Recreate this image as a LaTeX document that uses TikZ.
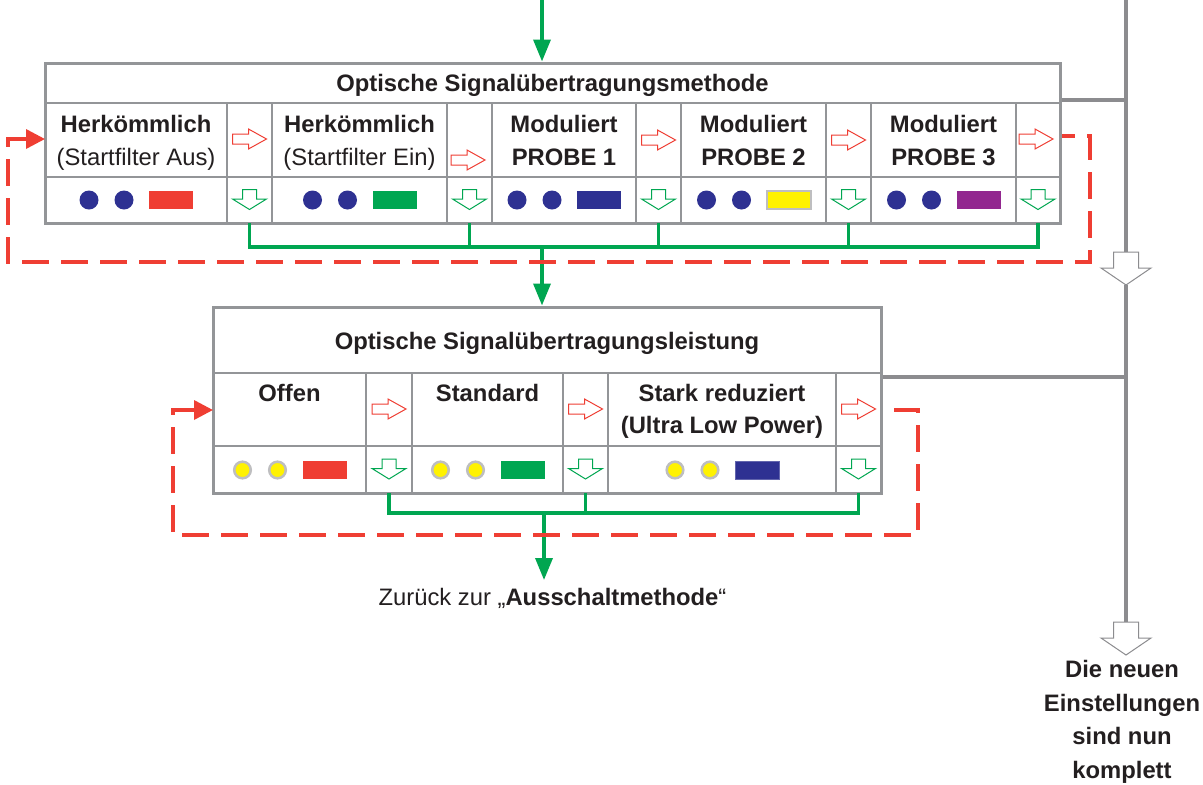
\documentclass[tikz,border=0pt]{standalone}
\usepackage{fontspec}
\setmainfont{Liberation Sans}
\usetikzlibrary{arrows.meta}

\definecolor{framegray}{RGB}{147,149,152}
\definecolor{linegray}{RGB}{140,140,143}
\definecolor{dotrim}{RGB}{190,190,192}
\definecolor{sigred}{RGB}{239,62,51}
\definecolor{siggreen}{RGB}{0,166,81}
\definecolor{sigblue}{RGB}{46,49,146}
\definecolor{sigyellow}{RGB}{255,242,0}
\definecolor{sigpurple}{RGB}{146,39,143}
\definecolor{txt}{RGB}{35,31,32}

\tikzset{
  reg/.style={font=\fontsize{23.8}{28}\selectfont, text=txt, inner sep=0pt, anchor=base},
  bld/.style={font=\fontsize{23.8}{28}\selectfont\bfseries, text=txt, inner sep=0pt, anchor=base},
  frame/.style={draw=framegray, line width=3pt, inner sep=0pt},
  grid/.style={draw=framegray, line width=1.5pt},
  gline/.style={draw=linegray, line width=3.5pt},
  gconn/.style={draw=siggreen, line width=3.5pt},
  gtip/.style={-{Triangle[length=22pt,width=17pt]}},
  rloop/.style={draw=sigred, line width=3.5pt, dash pattern=on 27pt off 12pt,
                {Triangle[length=19pt,width=19pt]}-},
  % small hollow arrow pointing right
  rarrow/.pic={\draw[sigred, line width=1pt, fill=white]
      (-17,-5) -- (-1,-5) -- (-1,-10) -- (17,0) -- (-1,10) -- (-1,5) -- (-17,5) -- cycle;},
  % small hollow arrow pointing down
  darrow/.pic={\draw[siggreen, line width=1pt, fill=white]
      (-7,-10) -- (7,-10) -- (7,-0.5) -- (17,-0.5) -- (0,10) -- (-17,-0.5) -- (-7,-0.5) -- cycle;},
  % large hollow arrow on the gray line
  grayarrow/.pic={\draw[linegray, line width=1pt, fill=white]
      (-12.5,0) -- (12.5,0) -- (12.5,16) -- (25,16) -- (0,33) -- (-25,16) -- (-12.5,16) -- cycle;
      \coordinate (-top) at (0,0);
      \coordinate (-tip) at (0,33);},
  % signal pattern: two blue dots and a coloured bar
  bluesig/.pic={\fill[sigblue] (-47,0) circle (9.5);
      \fill[sigblue] (-12,0) circle (9.5);
      \path[#1] (13,-9) rectangle (57,9);},
  % signal pattern: two yellow dots and a coloured bar
  yellowsig/.pic={\filldraw[fill=sigyellow, draw=dotrim, line width=2.5pt] (-47,0) circle (8.3);
      \filldraw[fill=sigyellow, draw=dotrim, line width=2.5pt] (-12,0) circle (8.3);
      \path[#1] (13,-9) rectangle (57,9);},
}

\begin{document}
\begin{tikzpicture}[x=1pt,y=-1pt]
\useasboundingbox[fill=white] (0,0) rectangle (1203,785);

% ---------- table: transmission method ----------
\foreach \x in {227,272,447,492,636,681,826,871,1016}
  \draw[grid] (\x,103) -- (\x,223);
\draw[grid] (45,103) -- (1060,103) (45,177) -- (1060,177);
\node[frame, minimum width=1015pt, minimum height=160pt] (methode) at (552.5,143) {};

\node[bld] (mTitle) at (552.5,91) {Optische Signalübertragungsmethode};

\node[bld] (m1a) at (136,132) {Herkömmlich};
\node[reg] (m1b) at (136,165) {(Startfilter Aus)};
\node[bld] (m2a) at (359.5,132) {Herkömmlich};
\node[reg] (m2b) at (359.5,165) {(Startfilter Ein)};
\node[bld] (m3a) at (564,132) {Moduliert};
\node[bld] (m3b) at (564,165) {PROBE 1};
\node[bld] (m4a) at (753.5,132) {Moduliert};
\node[bld] (m4b) at (753.5,165) {PROBE 2};
\node[bld] (m5a) at (943.5,132) {Moduliert};
\node[bld] (m5b) at (943.5,165) {PROBE 3};

\pic at (249.5,139) {rarrow};
\pic at (468,160) {rarrow};
\pic at (658.5,140) {rarrow};
\pic at (848.5,140) {rarrow};
\pic at (1036,139) {rarrow};

\foreach \x in {249.5,469.5,658.5,848.5,1038}
  \pic at (\x,199.5) {darrow};

\pic at (136,200) {bluesig={fill=sigred}};
\pic at (359.5,200) {bluesig={fill=siggreen}};
\pic at (564,200) {bluesig={fill=sigblue}};
\pic at (753.5,200) {bluesig={fill=sigyellow, draw=dotrim, line width=2pt}};
\pic at (943.5,200) {bluesig={fill=sigpurple}};

% ---------- table: transmission power ----------
\foreach \x in {366,412,563,608,836}
  \draw[grid] (\x,373) -- (\x,493);
\draw[grid] (213,373) -- (881,373) (213,446) -- (881,446);
\node[frame, minimum width=668pt, minimum height=186pt] (leistung) at (547,400) {};

\node[bld] (lTitle) at (547,349) {Optische Signalübertragungsleistung};
\node[bld] (l1) at (289.5,401) {Offen};
\node[bld] (l2) at (487.5,401) {Standard};
\node[bld] (l3a) at (722,401) {Stark reduziert};
\node[bld] (l3b) at (722,433) {(Ultra Low Power)};

\foreach \x in {389,585.5,858.5} {
  \pic at (\x,409) {rarrow};
  \pic at (\x,469) {darrow};
}

\pic at (289.5,470) {yellowsig={fill=sigred}};
\pic at (487.5,470) {yellowsig={fill=siggreen}};
\pic at (722,470) {yellowsig={fill=sigblue, draw=sigblue!75, line width=1pt}};

% ---------- captions ----------
\node[reg] (back) at (552.5,605) {Zurück zur „\textbf{Ausschaltmethode}“};
\node[bld] (done1) at (1122,677) {Die neuen};
\node[bld] (done2) at (1122,711) {Einstellungen};
\node[bld] (done3) at (1122,744) {sind nun};
\node[bld] (done4) at (1122,778) {komplett};

% ---------- gray line to the end of the setup ----------
\pic (ga1) at (1126,252) {grayarrow};
\pic (ga2) at (1126,622) {grayarrow};
\coordinate (gStart) at (1126,0);
\coordinate (j1) at (1126,100);
\coordinate (j2) at (1126,377);
\draw[gline] (gStart) -- (ga1-top);
\draw[gline] (ga1-tip) -- (ga2-top);
\draw[gline] (methode.east |- j1) -- (j1);
\draw[gline] (leistung.east |- j2) -- (j2);

% ---------- green connectors ----------
\coordinate (gIn) at (542,0);
\draw[gconn, gtip] (gIn) -- (gIn |- methode.north);

\foreach \x/\n in {249.5/a,469.5/b,658.5/c,848.5/d,1038/e}
  \coordinate (mOut\n) at (\x,223);
\coordinate (mBus) at (542,247);
\draw[gconn] (mOuta) -- (mOuta |- mBus) -- (mOute |- mBus) -- (mOute);
\foreach \n in {b,c,d}
  \draw[gconn] (mOut\n) -- (mOut\n |- mBus);
\draw[gconn, gtip] (mBus) -- (mBus |- leistung.north);

\foreach \x/\n in {389/a,585.5/b,858.5/c}
  \coordinate (lOut\n) at (\x,493);
\coordinate (lBus) at (544,513);
\coordinate (backIn) at (544,580);
\draw[gconn] (lOuta) -- (lOuta |- lBus) -- (lOutc |- lBus) -- (lOutc);
\draw[gconn] (lOutb) -- (lOutb |- lBus);
\draw[gconn, gtip] (lBus) -- (backIn);

% ---------- red loops back to the first option ----------
\coordinate (mLoopIn) at (45,139);
\coordinate (mLoopOut) at (1062,136);
\draw[rloop] (mLoopIn) -- (8,139) -- (8,262) -- (1090,262) -- (1090,136) -- (mLoopOut);

\coordinate (lLoopIn) at (213,410);
\coordinate (lLoopOut) at (883,410);
\draw[rloop] (lLoopIn) -- (173,410) -- (173,535) -- (918,535) -- (918,410) -- (lLoopOut);
\end{tikzpicture}
\end{document}
